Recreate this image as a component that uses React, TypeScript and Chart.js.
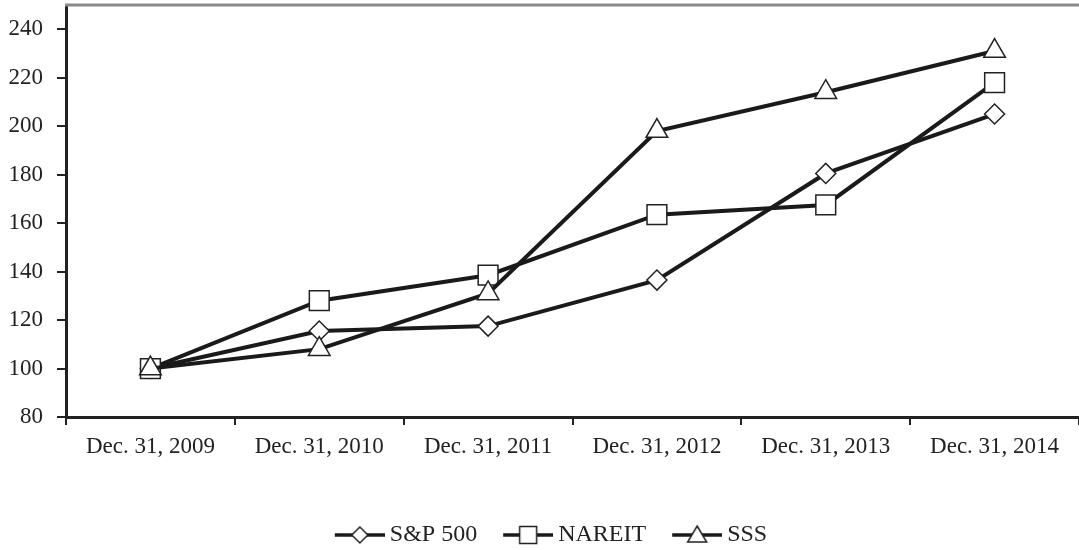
import React, { useEffect, useRef } from "react";
import { Chart, registerables } from "chart.js";

Chart.register(...registerables);

const categories = [
  "Dec. 31, 2009",
  "Dec. 31, 2010",
  "Dec. 31, 2011",
  "Dec. 31, 2012",
  "Dec. 31, 2013",
  "Dec. 31, 2014",
];
const sp500 = [100, 115.5, 117.5, 136.5, 180.5, 205];
const nareit = [100, 128, 138.5, 163.5, 167.5, 218];
const sss = [100, 108, 131, 198, 214, 231];
const seriesNames = ["S&P 500", "NAREIT", "SSS"];
const yTicks = [80, 100, 120, 140, 160, 180, 200, 220, 240];

const LINE = "#1a1a1a";
const FONT = "'Liberation Serif', 'Times New Roman', serif";

function legendSymbol(kind: string): HTMLCanvasElement {
  const c = document.createElement("canvas");
  c.width = 80;
  c.height = 24;
  const ctx = c.getContext("2d")!;
  const cy = 12;
  ctx.strokeStyle = LINE;
  ctx.lineWidth = 3.5;
  ctx.beginPath();
  ctx.moveTo(30, cy);
  ctx.lineTo(80, cy);
  ctx.stroke();
  const cx = 55;
  ctx.fillStyle = "#ffffff";
  ctx.strokeStyle = "#222";
  ctx.lineWidth = 1.5;
  ctx.beginPath();
  if (kind === "rectRot") {
    ctx.moveTo(cx, cy - 8);
    ctx.lineTo(cx + 8, cy);
    ctx.lineTo(cx, cy + 8);
    ctx.lineTo(cx - 8, cy);
    ctx.closePath();
  } else if (kind === "rect") {
    ctx.rect(cx - 8.5, cy - 8.5, 17, 17);
  } else {
    ctx.moveTo(cx, cy - 9);
    ctx.lineTo(cx + 9.5, cy + 7);
    ctx.lineTo(cx - 9.5, cy + 7);
    ctx.closePath();
  }
  ctx.fill();
  ctx.stroke();
  return c;
}

const topLinePlugin = {
  id: "topLine",
  afterDraw(chart: any) {
    const { ctx, chartArea } = chart;
    ctx.save();
    ctx.strokeStyle = "#8a8a8a";
    ctx.lineWidth = 3;
    ctx.beginPath();
    ctx.moveTo(chartArea.left - 1, chartArea.top);
    ctx.lineTo(chart.width, chartArea.top);
    ctx.stroke();
    ctx.restore();
  },
};

export default function App() {
  const ref = useRef<HTMLCanvasElement | null>(null);

  useEffect(() => {
    document.body.style.margin = "0";
    const styles = ["rectRot", "rect", "triangle"];
    const radii = [10, 14, 12.5];
    const values = [sp500, nareit, sss];
    const orders = [3, 2, 1];
    const symbols = styles.map((s) => legendSymbol(s));

    const chart = new Chart(ref.current!, {
      type: "line",
      data: {
        labels: categories,
        datasets: values.map((v, i) => ({
          label: seriesNames[i],
          data: v,
          order: orders[i],
          borderColor: LINE,
          borderWidth: 4,
          pointStyle: styles[i] as any,
          pointRadius: radii[i],
          pointBackgroundColor: "#ffffff",
          pointBorderColor: "#222",
          pointBorderWidth: 1.5,
          fill: false,
          tension: 0,
          clip: false as any,
        })),
      },
      options: {
        responsive: false,
        animation: false,
        layout: { autoPadding: false, padding: { left: 0, top: 5, right: 0, bottom: 0 } },
        plugins: {
          tooltip: { enabled: false },
          legend: {
            position: "bottom",
            maxHeight: 30,
            labels: {
              usePointStyle: true,
              pointStyleWidth: 66,
              padding: 3,
              color: "#222",
              font: { family: FONT, size: 24 },
              generateLabels: () =>
                seriesNames.map((n, i) => ({
                  text: n,
                  pointStyle: symbols[i] as any,
                  fillStyle: "#fff",
                  strokeStyle: LINE,
                  lineWidth: 0,
                  hidden: false,
                  datasetIndex: i,
                  fontColor: "#222",
                })),
            },
          },
        },
        scales: {
          x: {
            type: "category",
            offset: true,
            grid: {
              offset: true,
              drawOnChartArea: false,
              drawTicks: true,
              tickLength: 8,
              color: "#222",
              lineWidth: 2,
            },
            border: { display: true, color: "#222", width: 3 },
            ticks: {
              color: "#222",
              padding: 8,
              maxRotation: 0,
              autoSkip: false,
              font: { family: FONT, size: 23 },
            },
            afterFit: (axis: any) => {
              axis.height = 103;
              axis.paddingLeft = 0;
              axis.paddingRight = 0;
            },
          },
          y: {
            min: 80,
            max: 250,
            grid: {
              drawOnChartArea: false,
              drawTicks: true,
              tickLength: 9,
              color: "#222",
              lineWidth: 2,
            },
            border: { display: true, color: "#222", width: 3 },
            ticks: {
              color: "#222",
              padding: 14,
              stepSize: 20,
              font: { family: FONT, size: 23 },
            },
            afterBuildTicks: (axis: any) => {
              axis.ticks = yTicks.map((v) => ({ value: v }));
            },
            afterFit: (axis: any) => {
              axis.width = 66;
              axis.paddingTop = 0;
              axis.paddingBottom = 0;
            },
          },
        },
      },
      plugins: [topLinePlugin],
    });
    return () => chart.destroy();
  }, []);

  return (
    <div style={{ position: "absolute", left: 0, top: 0, width: 1079, height: 550 }}>
      <canvas ref={ref} width={1079} height={550} style={{ display: "block" }} />
    </div>
  );
}
